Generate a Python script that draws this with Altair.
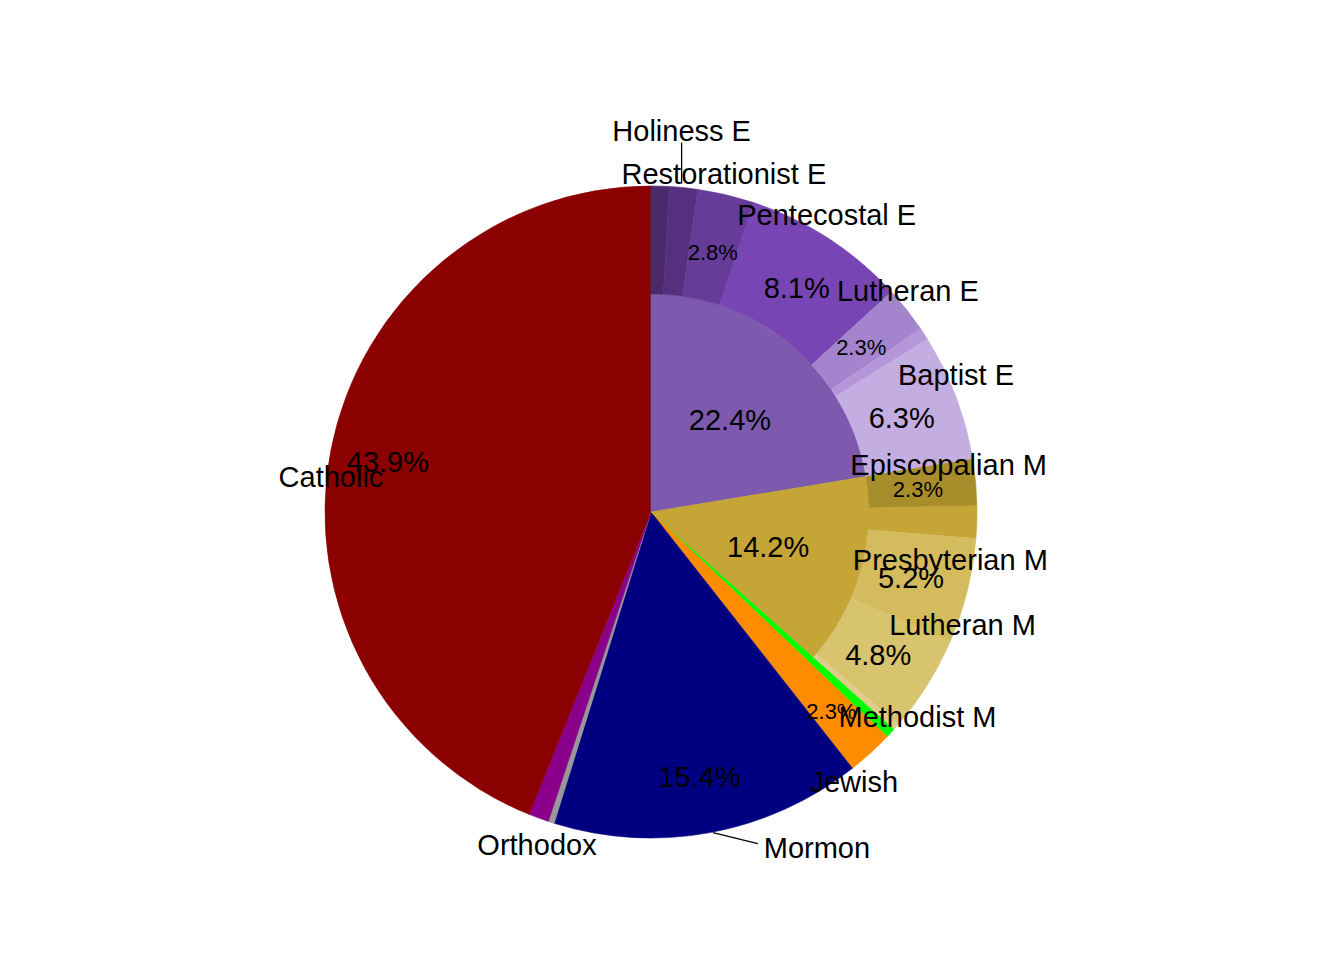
import math
import altair as alt
import pandas as pd

# ---------------- data ----------------
inner_names = ["Evangelical", "Mainline"]
inner_values = [22.4, 14.2]

outer_names = ["Other E 1", "Holiness E", "Restorationist E", "Pentecostal E", "Lutheran E",
               "Other E 2", "Baptist E",
               "Episcopalian M", "Other M", "Presbyterian M", "Lutheran M", "Methodist M"]
outer_values = [0.9, 1.4, 2.8, 8.1, 2.3, 0.6, 6.3,
                2.3, 1.6, 5.2, 4.8, 0.3]

other_names = ["Other 1", "Jewish", "Mormon", "Other 2", "Orthodox", "Catholic"]
other_values = [0.5, 2.3, 15.4, 0.3, 1.0, 43.9]

shown_names = ["Holiness E", "Restorationist E", "Pentecostal E", "Lutheran E", "Baptist E",
               "Episcopalian M", "Presbyterian M", "Lutheran M", "Methodist M",
               "Jewish", "Mormon", "Orthodox", "Catholic"]

# ---------------- styling ----------------
palette = {
    "Evangelical": "#7D5AAE", "Mainline": "#C4A535",
    "Other E 1": "#4A2A6B", "Holiness E": "#56307F", "Restorationist E": "#673C99",
    "Pentecostal E": "#7845B4", "Lutheran E": "#A584CE", "Other E 2": "#B597D9",
    "Baptist E": "#C4ADE0",
    "Episcopalian M": "#A88E2B", "Other M": "#C4A535", "Presbyterian M": "#D4BC5E",
    "Lutheran M": "#D8C36E", "Methodist M": "#DFCB8C",
    "Other 1": "#00FF00", "Jewish": "#FF8C00", "Mormon": "#000080", "Other 2": "#999999",
    "Orthodox": "#8B008B", "Catholic": "#8B0000",
}
# label nudges (pixels) from the slice's outer edge at its mid angle
nudges = {
    "Holiness E": (-2, -59), "Restorationist E": (-2, -23), "Pentecostal E": (-1, -25),
    "Lutheran E": (2, -20), "Baptist E": (1, -23), "Episcopalian M": (-26, -18),
    "Presbyterian M": (-16, -32), "Lutheran M": (36, -60), "Methodist M": (22, -10),
    "Jewish": (-16, 29), "Mormon": (107, 15), "Orthodox": (-2, 27), "Catholic": (-1, 26),
}
# leader segments (start dx, start dy, end dx, end dy) from the same anchor
leaders = {"Holiness E": (-2, -5, -2, -46), "Mormon": (3, 1, 48, 12)}

CX, CY, R_OUT, R_IN = 638, 499, 326, 218
FONT = "Liberation Sans"
TEXT_DY = 2

# ---------------- table ----------------
rows = []
def add(names, values, level, start):
    pos = start
    for n, v in zip(names, values):
        rows.append(dict(name=n, value=v, level=level, start=pos, end=pos + v, mid=pos + v / 2))
        pos += v
    return pos

add(inner_names, inner_values, "inner", 0.0)
add(outer_names, outer_values, "outer", 0.0)
add(other_names, other_values, "full", sum(inner_values))
df = pd.DataFrame(rows)
df["nx"] = [nudges.get(n, (0, 0))[0] for n in df["name"]]
df["ny"] = [nudges.get(n, (0, 0))[1] for n in df["name"]]
df["s0x"] = [leaders.get(n, (0, 0, 0, 0))[0] for n in df["name"]]
df["s0y"] = [leaders.get(n, (0, 0, 0, 0))[1] for n in df["name"]]
df["s1x"] = [leaders.get(n, (0, 0, 0, 0))[2] for n in df["name"]]
df["s1y"] = [leaders.get(n, (0, 0, 0, 0))[3] for n in df["name"]]

all_names = list(palette.keys())
color_scale = alt.Scale(domain=all_names, range=[palette[n] for n in all_names])
th_scale = alt.Scale(domain=[0, 100], range=[0, 2 * math.pi])

base = alt.Chart(df)

def arcs(level, **radii):
    return base.transform_filter(alt.datum.level == level).mark_arc(strokeWidth=0.6).encode(
        theta=alt.Theta("start:Q", scale=th_scale, stack=False),
        theta2="end:Q",
        color=alt.Color("name:N", scale=color_scale, legend=None),
        stroke=alt.Stroke("name:N", scale=color_scale, legend=None),
        x=alt.value(CX), y=alt.value(CY),
        **radii,
    )

full_arcs = arcs("full", radius=alt.value(R_OUT))
inner_arcs = arcs("inner", radius=alt.value(R_IN))
outer_arcs = arcs("outer", radius=alt.value(R_OUT), radius2=alt.value(R_IN))

def pct_text(test, r):
    return base.transform_filter(test).transform_filter(alt.datum.value >= 2).transform_calculate(
        label="format(datum.value, '.1f') + '%'"
    ).mark_text(font=FONT, align="center", baseline="middle", color="black", dy=TEXT_DY).encode(
        theta=alt.Theta("mid:Q", scale=th_scale, stack=False),
        radius=alt.value(r),
        x=alt.value(CX), y=alt.value(CY),
        size=alt.condition(alt.datum.value < 3, alt.value(22), alt.value(29)),
        text="label:N",
    )

pct_inner = pct_text(alt.datum.level == "inner", 122)
pct_outer = pct_text(alt.datum.level != "inner", 268)

names_layer = base.transform_filter(
    alt.FieldOneOfPredicate(field="name", oneOf=shown_names)
).transform_calculate(
    lx=f"{CX} + datum.nx", ly=f"{CY} + datum.ny"
).mark_text(font=FONT, fontSize=29, align="center", baseline="middle", color="black",
            dy=TEXT_DY).encode(
    theta=alt.Theta("mid:Q", scale=th_scale, stack=False),
    radius=alt.value(325),
    x=alt.X("lx:Q", scale=None, axis=None),
    y=alt.Y("ly:Q", scale=None, axis=None),
    text="name:N",
)

leader_layer = base.transform_filter(
    alt.FieldOneOfPredicate(field="name", oneOf=list(leaders.keys()))
).transform_calculate(
    ang="datum.mid / 100 * 2 * PI"
).transform_calculate(
    ax=f"{CX} + 325 * sin(datum.ang)", ay=f"{CY} - 325 * cos(datum.ang)"
).transform_calculate(
    x0="datum.ax + datum.s0x", y0="datum.ay + datum.s0y",
    x1="datum.ax + datum.s1x", y1="datum.ay + datum.s1y",
).mark_rule(color="black", strokeWidth=1.3).encode(
    x=alt.X("x0:Q", scale=None, axis=None), y=alt.Y("y0:Q", scale=None, axis=None),
    x2="x1:Q", y2="y1:Q",
)

chart = alt.layer(
    full_arcs, inner_arcs, outer_arcs, pct_inner, pct_outer, names_layer, leader_layer
).resolve_scale(theta="shared").properties(
    width=1310, height=930, background="white"
).configure_view(stroke=None)

chart.save("out.html", embed_options={"renderer": "svg", "actions": False})
